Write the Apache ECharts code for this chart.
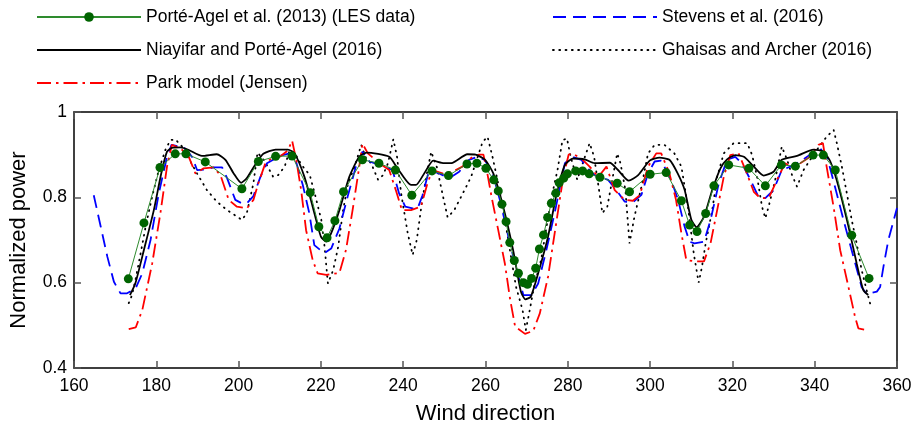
<!DOCTYPE html>
<html>
<head>
<meta charset="utf-8">
<script src="https://cdn.jsdelivr.net/npm/echarts@6/dist/echarts.min.js"></script>
<style>html,body{margin:0;padding:0;background:#fff;}#c{width:921px;height:435px;}</style>
</head>
<body>
<div id="c"></div>
<script>
const FONT = "'Liberation Sans', Arial, Helvetica, sans-serif";
const xTicks = [160, 360, 20];
const yTicks = [0.4, 1, 0.2];
const seriesNames = ['Porté-Agel et al. (2013) (LES data)', 'Niayifar and Porté-Agel (2016)', 'Park model (Jensen)', 'Stevens et al. (2016)', 'Ghaisas and Archer (2016)'];

const lesData = [[173.2,0.609],[177,0.74],[180.9,0.87],[184.6,0.902],[187.2,0.902],[191.9,0.883],[200.8,0.82],[204.8,0.884],[209,0.896],[213,0.897],[217.4,0.811],[219.5,0.731],[221.5,0.705],[223.4,0.745],[225.5,0.813],[230.1,0.888],[234.1,0.88],[238.1,0.864],[242.1,0.805],[247,0.862],[251,0.851],[255.5,0.878],[257.9,0.88],[260.1,0.868],[262,0.841],[263.1,0.815],[264,0.784],[265,0.743],[265.9,0.694],[267,0.652],[268,0.622],[269.2,0.6],[270.2,0.596],[271.2,0.61],[272.2,0.634],[273.1,0.679],[274.1,0.712],[275.1,0.753],[276,0.786],[277.1,0.81],[277.9,0.834],[279,0.845],[279.9,0.855],[281.9,0.862],[283.6,0.862],[285.2,0.855],[287.8,0.847],[292,0.833],[295,0.813],[300,0.854],[303.9,0.858],[307.6,0.792],[309.6,0.735],[311.4,0.72],[313.5,0.762],[315.5,0.827],[319.1,0.876],[324,0.868],[328,0.827],[331.9,0.876],[335.3,0.873],[339.6,0.899],[342.1,0.899],[345,0.864],[349,0.711],[353.2,0.61]];

const niayData = [[173.6,0.571],[174.9,0.598],[177,0.677],[179.4,0.77],[181.2,0.856],[182.6,0.907],[183.8,0.916],[185.9,0.917],[187.9,0.911],[191.1,0.897],[194.7,0.901],[196.8,0.888],[198.8,0.856],[200.6,0.834],[202,0.845],[204,0.876],[206,0.902],[209,0.912],[212,0.912],[213.6,0.903],[216,0.848],[218,0.778],[220,0.708],[221.3,0.696],[222.5,0.716],[224.5,0.77],[226.9,0.848],[229.3,0.895],[231.1,0.905],[236.6,0.895],[238.6,0.868],[241.9,0.829],[243.1,0.829],[245.1,0.856],[247.3,0.886],[249.9,0.88],[252,0.881],[255.6,0.901],[257.6,0.9],[259.9,0.888],[261.9,0.856],[264.3,0.778],[266.7,0.677],[268.6,0.579],[269.7,0.561],[271,0.567],[272.8,0.622],[275.2,0.708],[277.3,0.809],[279.3,0.876],[281.3,0.891],[284.1,0.889],[286.5,0.88],[290.2,0.881],[292.2,0.864],[294.8,0.839],[297.1,0.852],[299.9,0.886],[302.3,0.893],[304.7,0.888],[306.7,0.856],[308.4,0.817],[310,0.748],[311.3,0.73],[313.1,0.755],[315.1,0.817],[317.1,0.868],[318.7,0.889],[320.7,0.899],[322.8,0.895],[325.2,0.872],[327.6,0.851],[330,0.86],[332,0.888],[335.7,0.897],[339.7,0.912],[342.1,0.907],[343.8,0.884],[345.8,0.825],[348.2,0.732],[350.2,0.645],[351.8,0.583],[353,0.571]];

const parkData = [[173.3,0.491],[175,0.495],[176.6,0.536],[179,0.645],[181,0.763],[182.6,0.872],[183.8,0.923],[185.9,0.915],[187.9,0.895],[189.5,0.856],[191.5,0.868],[193.9,0.87],[195.6,0.852],[197.6,0.794],[199.6,0.778],[202,0.774],[203.6,0.794],[204.8,0.833],[206.5,0.88],[208.5,0.895],[210,0.895],[212,0.91],[213,0.933],[214,0.888],[215.2,0.817],[216.4,0.723],[218,0.653],[219.2,0.622],[221.3,0.618],[224.5,0.623],[226.1,0.677],[227.7,0.77],[229.2,0.864],[230.1,0.926],[231.4,0.903],[234.2,0.88],[236.6,0.864],[238.2,0.817],[239.7,0.77],[241.9,0.77],[244.3,0.778],[245.9,0.833],[247.1,0.864],[249.5,0.856],[252,0.86],[254.4,0.872],[256.8,0.895],[258.4,0.9],[259.5,0.9],[260.3,0.864],[261.5,0.8],[263.1,0.723],[264.7,0.645],[266,0.56],[267.2,0.497],[269.6,0.48],[271.6,0.487],[273.2,0.528],[275.2,0.614],[277.3,0.747],[278.9,0.848],[280.2,0.9],[281.1,0.903],[283.3,0.891],[285.3,0.872],[287.4,0.848],[289.4,0.872],[291.4,0.817],[293.8,0.794],[295.8,0.792],[297.5,0.805],[299.5,0.872],[301.5,0.903],[302.7,0.903],[304.7,0.856],[306.3,0.794],[307.6,0.716],[308.8,0.653],[310.8,0.65],[313.1,0.65],[314.7,0.693],[316.3,0.77],[317.9,0.848],[319.5,0.899],[321.5,0.903],[323.2,0.864],[325.2,0.813],[326.8,0.798],[328.8,0.798],[330.8,0.84],[332.8,0.88],[334,0.873],[336.5,0.88],[338.9,0.895],[340.9,0.923],[342,0.927],[342.9,0.872],[344.6,0.777],[346.2,0.676],[348.2,0.59],[349.8,0.52],[350.6,0.493],[352.6,0.489]];

const stevensData = [[164.8,0.805],[166.5,0.731],[168.1,0.661],[169.7,0.602],[171.3,0.575],[172.9,0.575],[175,0.587],[176.6,0.622],[178.6,0.7],[180.6,0.809],[182.6,0.895],[183.7,0.923],[186.7,0.917],[188.7,0.895],[189.9,0.864],[191.5,0.865],[193.9,0.87],[196,0.87],[197.2,0.845],[199.2,0.794],[200.8,0.786],[202,0.786],[203.6,0.803],[205.3,0.848],[206.9,0.88],[210,0.897],[212.4,0.903],[213.6,0.895],[215.6,0.829],[217.2,0.762],[218.4,0.688],[220.8,0.669],[222.5,0.68],[224.5,0.727],[226.5,0.802],[228.5,0.872],[230.1,0.907],[231.8,0.884],[234.2,0.876],[237.4,0.864],[239,0.809],[240.5,0.778],[242.3,0.774],[243.5,0.774],[244.7,0.805],[246.3,0.864],[248.7,0.856],[251.2,0.845],[253.6,0.86],[256,0.888],[258,0.895],[259.7,0.888],[261.5,0.864],[263.5,0.794],[265.9,0.693],[268,0.614],[269.2,0.571],[271.2,0.571],[272.8,0.598],[274.8,0.677],[276.8,0.763],[279.3,0.88],[281,0.895],[283.3,0.888],[284.5,0.872],[286.5,0.852],[289.8,0.841],[291.8,0.817],[293.8,0.79],[295.8,0.788],[297.9,0.806],[299.5,0.856],[301.1,0.884],[302.7,0.886],[305.1,0.841],[306.8,0.794],[308.4,0.731],[309.6,0.696],[310.8,0.692],[313.1,0.696],[314.7,0.747],[316.7,0.833],[318.7,0.888],[320.7,0.895],[322.3,0.88],[324.4,0.841],[326.4,0.8],[328,0.798],[330,0.817],[332,0.864],[334.1,0.872],[336.5,0.884],[339.3,0.903],[341.3,0.915],[343,0.895],[344.6,0.837],[347,0.747],[349.4,0.661],[351.4,0.59],[352.6,0.573],[355.1,0.579],[355.9,0.59],[356.7,0.637],[357.9,0.7],[360,0.775]];

const ghaisasData = [[173.3,0.552],[174.1,0.571],[175,0.61],[176.2,0.669],[177.4,0.731],[179,0.802],[180.6,0.864],[182.2,0.911],[183.4,0.934],[184.6,0.936],[186.3,0.919],[187.9,0.891],[189.9,0.856],[192.3,0.817],[194.7,0.79],[197.2,0.77],[199.6,0.755],[200.8,0.747],[202,0.763],[203.6,0.833],[204.6,0.905],[206.4,0.884],[208.4,0.848],[209.6,0.852],[211.2,0.872],[212.4,0.911],[213.7,0.903],[215.3,0.876],[217.3,0.852],[218.5,0.809],[220.1,0.747],[220.9,0.684],[221.7,0.598],[223,0.63],[224.2,0.684],[225.4,0.77],[226.6,0.833],[228.2,0.872],[229.8,0.923],[231,0.891],[232.2,0.88],[233.9,0.841],[235.1,0.852],[236.3,0.88],[237.6,0.936],[238.5,0.895],[239.5,0.809],[241.1,0.716],[242.3,0.665],[243.3,0.7],[244.5,0.785],[245.6,0.848],[246.8,0.907],[248.2,0.87],[249.5,0.81],[250.8,0.753],[252.4,0.77],[254.9,0.817],[256.5,0.848],[258.1,0.895],[259.3,0.93],[260.5,0.942],[261.7,0.895],[262.9,0.841],[264.2,0.778],[265.8,0.684],[267.4,0.591],[269,0.536],[269.8,0.489],[270.6,0.528],[271.8,0.591],[273.5,0.653],[274.7,0.723],[275.9,0.794],[277.5,0.864],[278.7,0.934],[279.8,0.938],[280.7,0.895],[282.3,0.841],[283.9,0.888],[285.3,0.927],[286.4,0.895],[287.6,0.817],[288.4,0.763],[289.6,0.778],[290.8,0.841],[292,0.903],[292.8,0.88],[294,0.817],[295,0.692],[296.2,0.755],[297.9,0.825],[299.5,0.903],[301.1,0.923],[303.5,0.923],[305.9,0.903],[307.6,0.872],[309.2,0.778],[310.6,0.669],[311.8,0.6],[312.6,0.637],[313.5,0.692],[315.1,0.77],[316.3,0.848],[317.9,0.903],[320.3,0.927],[323.6,0.927],[324.8,0.899],[326,0.848],[327.2,0.778],[328,0.751],[328.8,0.778],[330.4,0.841],[332,0.919],[333.3,0.888],[334.5,0.852],[335.7,0.825],[337.3,0.864],[338.9,0.888],[340.5,0.911],[342.9,0.942],[344.6,0.958],[345.4,0.926],[346.6,0.872],[347.8,0.81],[349,0.747],[350.2,0.692],[351.4,0.63],[352.6,0.583],[353.5,0.55]];

const chart = echarts.init(document.getElementById('c'), null, {renderer: 'canvas'});

const axisLineStyle = {color: '#000', width: 1.5};
const tickStyle = {color: '#555', width: 1.5};
const legendText = {fontSize: 17.5, fontFamily: FONT, color: '#000', lineHeight: 18};
const noSym = (n) => ({name: n, itemStyle: {opacity: 0}});

const option = {
  animation: false,
  backgroundColor: '#fff',
  grid: {left: 72, right: 24, top: 112, bottom: 67, containLabel: false},
  legend: [
    {left: 31, top: 3, orient: 'vertical', itemWidth: 104, itemHeight: 12, itemGap: 15,
     data: [seriesNames[0], noSym(seriesNames[1]), noSym(seriesNames[2])], textStyle: legendText},
    {left: 547, top: 3, orient: 'vertical', itemWidth: 104, itemHeight: 12, itemGap: 15,
     data: [noSym(seriesNames[3]), noSym(seriesNames[4])], textStyle: legendText}
  ],
  xAxis: [
    {type: 'value', min: xTicks[0], max: xTicks[1], interval: xTicks[2], position: 'bottom',
     name: 'Wind direction', nameLocation: 'middle', nameGap: 35,
     nameTextStyle: {fontSize: 22, fontFamily: FONT, color: '#000'},
     axisLine: {show: true, onZero: false, lineStyle: axisLineStyle},
     axisTick: {show: true, inside: true, length: 7, lineStyle: tickStyle},
     axisLabel: {fontSize: 17.5, fontFamily: FONT, color: '#000', margin: 9},
     splitLine: {show: false}},
    {type: 'value', min: xTicks[0], max: xTicks[1], interval: xTicks[2], position: 'top',
     axisLine: {show: true, onZero: false, lineStyle: axisLineStyle},
     axisTick: {show: true, inside: true, length: 7, lineStyle: tickStyle},
     axisLabel: {show: false}, splitLine: {show: false}}
  ],
  yAxis: [
    {type: 'value', min: yTicks[0], max: yTicks[1], interval: yTicks[2], position: 'left',
     name: 'Normalized power', nameLocation: 'middle', nameGap: 44, nameRotate: 90,
     nameTextStyle: {fontSize: 22, fontFamily: FONT, color: '#000'},
     axisLine: {show: true, onZero: false, lineStyle: axisLineStyle},
     axisTick: {show: true, inside: true, length: 7, lineStyle: tickStyle},
     axisLabel: {fontSize: 17.5, fontFamily: FONT, color: '#000', margin: 7},
     splitLine: {show: false}},
    {type: 'value', min: yTicks[0], max: yTicks[1], interval: yTicks[2], position: 'right',
     axisLine: {show: true, onZero: false, lineStyle: axisLineStyle},
     axisTick: {show: true, inside: true, length: 7, lineStyle: tickStyle},
     axisLabel: {show: false}, splitLine: {show: false}}
  ],
  series: [
    {name: seriesNames[4], type: 'line', data: ghaisasData, symbol: 'none', z: 2,
     lineStyle: {color: '#000', width: 1.8, type: [0.8, 5.5], cap: 'round'}, itemStyle: {color: '#000'}},
    {name: seriesNames[3], type: 'line', data: stevensData, symbol: 'none', z: 3,
     lineStyle: {color: '#0000ff', width: 1.8, type: [13, 7]}, itemStyle: {color: '#0000ff'}},
    {name: seriesNames[2], type: 'line', data: parkData, symbol: 'none', z: 4,
     lineStyle: {color: '#ff0000', width: 1.8, type: [14, 5, 2.5, 5]}, itemStyle: {color: '#ff0000'}},
    {name: seriesNames[1], type: 'line', data: niayData, symbol: 'none', z: 5, smooth: 0.2,
     lineStyle: {color: '#000', width: 1.8}, itemStyle: {color: '#000'}},
    {name: seriesNames[0], type: 'line', data: lesData, symbol: 'circle', symbolSize: 9, z: 6,
     lineStyle: {color: '#2e8b2e', width: 1}, itemStyle: {color: '#006400'}}
  ]
};
chart.setOption(option);
</script>
</body>
</html>
